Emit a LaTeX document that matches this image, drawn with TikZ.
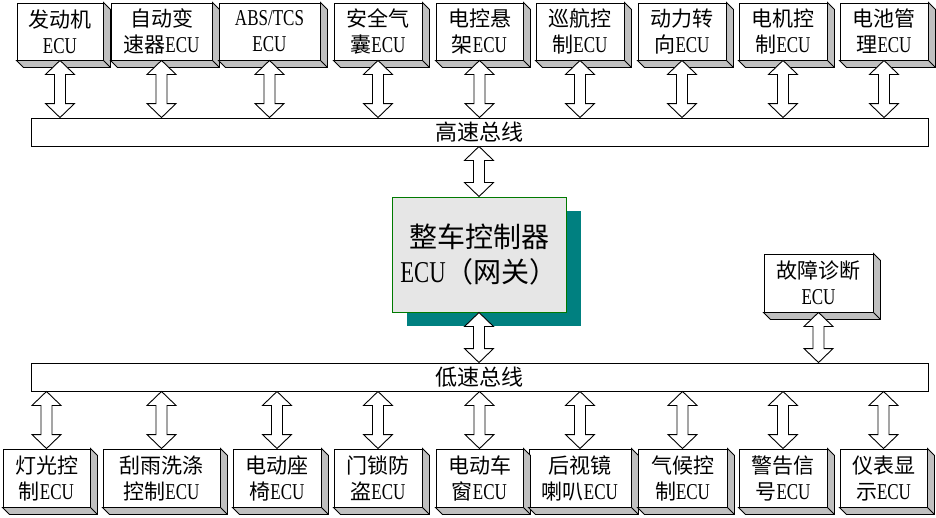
\documentclass[tikz,border=0pt]{standalone}
\usepackage{fontspec}
\setmainfont{Liberation Serif}[FakeStretch=0.75,Scale=1.08]
\newfontfamily\cjk{Noto Sans CJK SC}
\usetikzlibrary{calc,shadows}
\definecolor{bevelgray}{HTML}{C0C0C0}
\definecolor{ecufill}{HTML}{E6E6E6}
\definecolor{ecuborder}{HTML}{007A00}
\definecolor{shadowteal}{HTML}{008080}
\newcommand\C[1]{{\cjk #1}}
\newcommand\bevelbox[1]{%
  \filldraw[bevelside] (#1.north east) -- ++(7,7) -- ($(#1.south east)+(7,7)$) -- ($(#1.south west)+(7,7)$) -- (#1.south west) -- (#1.south east) -- cycle;
  \draw[bevelside] (#1.south east) -- ++(7,7);}
\newcommand\dblarr[2]{%
  \draw[blockarr] let \p1=(#1), \p2=(#2) in
  (\x1,\y1) -- (\x1+14.5pt,\y1-14pt) -- (\x1+5.5pt,\y1-14pt) -- (\x1+5.5pt,\y2+14pt) -- (\x1+14.5pt,\y2+14pt) -- (\x1,\y2)
  -- (\x1-14.5pt,\y2+14pt) -- (\x1-5.5pt,\y2+14pt) -- (\x1-5.5pt,\y1-14pt) -- (\x1-14.5pt,\y1-14pt) -- cycle;}
\tikzset{
  ecubox/.style={draw=black, line width=0.9pt, fill=white, inner sep=0pt, align=center,
    font=\fontsize{21}{26}\selectfont},
  tbox/.style={ecubox, minimum height=57},
  bbox/.style={ecubox, minimum height=58},
  bevelside/.style={draw=black, fill=bevelgray, line width=0.9pt, line join=miter},
  busbox/.style={draw=black, line width=0.9pt, fill=white, inner sep=0pt, minimum width=897, minimum height=28,
    font=\fontsize{22}{26}\selectfont},
  blockarr/.style={draw=black, fill=white, line width=0.9pt, line join=miter},
  gateway/.style={draw=ecuborder, line width=1pt, fill=ecufill, inner sep=0pt, minimum width=174, minimum height=115,
    align=center, font=\fontsize{28}{35}\selectfont,
    drop shadow={fill=shadowteal, shadow xshift=15pt, shadow yshift=-14pt, opacity=1}}
}
\begin{document}
\begin{tikzpicture}[x=1pt,y=-1pt]
\useasboundingbox (0,0) rectangle (936,517);
% top row
\node[tbox, minimum width=86]  (t1) at (60,31.5)    {\C{发动机}\\ECU};
\node[tbox, minimum width=101] (t2) at (161.5,31.5) {\C{自动变}\\\C{速器}ECU};
\node[tbox, minimum width=101] (t3) at (269.5,31.5) {ABS/TCS\\ECU};
\node[tbox, minimum width=88]  (t4) at (378,31.5)   {\C{安全气}\\\C{囊}ECU};
\node[tbox, minimum width=87]  (t5) at (479.5,31.5) {\C{电控悬}\\\C{架}ECU};
\node[tbox, minimum width=88]  (t6) at (580,31.5)   {\C{巡航控}\\\C{制}ECU};
\node[tbox, minimum width=88]  (t7) at (682,31.5)   {\C{动力转}\\\C{向}ECU};
\node[tbox, minimum width=88]  (t8) at (783,31.5)   {\C{电机控}\\\C{制}ECU};
\node[tbox, minimum width=88]  (t9) at (884,31.5)   {\C{电池管}\\\C{理}ECU};
\foreach \bx in {t1,t2,t3,t4,t5,t6,t7,t8,t9} {\bevelbox{\bx}}
% buses
\node[busbox] (hbus) at (479.5,132) {\C{高速总线}};
\node[busbox] (lbus) at (479.5,377) {\C{低速总线}};
% gateway
\node[gateway] (ecu) at (479,254.5) {\C{整车控制器}\\ECU\C{（网关）}};
% fault diagnosis
\node[bbox, minimum width=109] (fd) at (818.5,283) {\C{故障诊断}\\ECU};
\bevelbox{fd}
% bottom row
\node[bbox, minimum width=87]  (b1) at (46.5,478)  {\C{灯光控}\\\C{制}ECU};
\node[bbox, minimum width=117] (b2) at (161.5,478) {\C{刮雨洗涤}\\\C{控制}ECU};
\node[bbox, minimum width=88]  (b3) at (277,478)   {\C{电动座}\\\C{椅}ECU};
\node[bbox, minimum width=88]  (b4) at (378,478)   {\C{门锁防}\\\C{盗}ECU};
\node[bbox, minimum width=87]  (b5) at (479.5,478) {\C{电动车}\\\C{窗}ECU};
\node[bbox, minimum width=102] (b6) at (580,478)   {\C{后视镜}\\\C{喇叭}ECU};
\node[bbox, minimum width=89]  (b7) at (682.5,478) {\C{气候控}\\\C{制}ECU};
\node[bbox, minimum width=88]  (b8) at (783,478)   {\C{警告信}\\\C{号}ECU};
\node[bbox, minimum width=87]  (b9) at (883.5,478) {\C{仪表显}\\\C{示}ECU};
\foreach \bx in {b1,b2,b3,b4,b5,b6,b7,b8,b9} {\bevelbox{\bx}}
% arrows
\foreach \bx in {t1,t2,t3,t4,t5,t6,t7,t8,t9} {\dblarr{\bx.south}{\bx.south |- hbus.north}}
\dblarr{ecu.north |- hbus.south}{ecu.north}
\dblarr{ecu.south}{ecu.south |- lbus.north}
\dblarr{fd.south}{fd.south |- lbus.north}
\foreach \bx in {b1,b2,b3,b4,b5,b6,b7,b8,b9} {\dblarr{\bx.north |- lbus.south}{\bx.north}}
\end{tikzpicture}
\end{document}
